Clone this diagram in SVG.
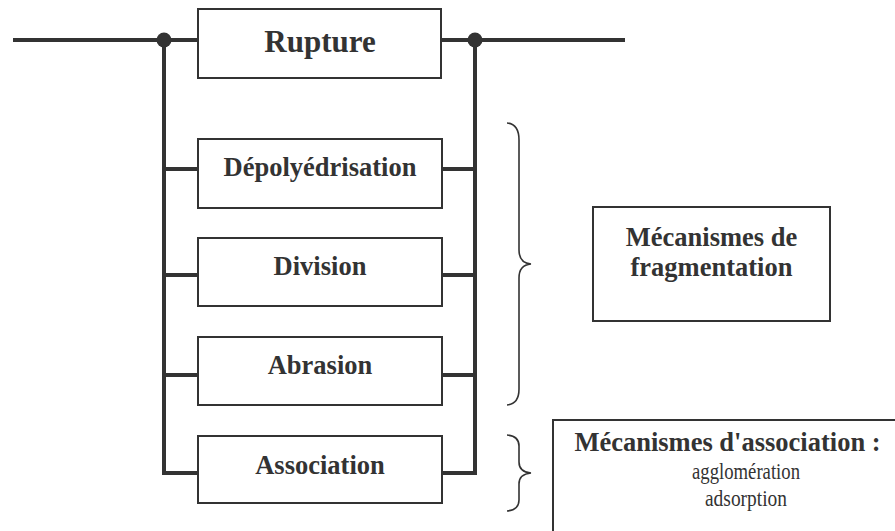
<svg xmlns="http://www.w3.org/2000/svg" width="895" height="531" viewBox="0 0 895 531">
<style>
.box{fill:#fff;stroke:#333;stroke-width:2}
.wire{fill:none;stroke:#333;stroke-width:4}
.brace{fill:none;stroke:#333;stroke-width:1.6}
.t{font-family:"Liberation Serif","Times New Roman",serif;font-weight:bold;font-size:26.5px;fill:#333;text-anchor:middle}
.r{font-family:"Liberation Serif","Times New Roman",serif;font-size:24px;fill:#333;text-anchor:middle}
</style>
<rect width="895" height="531" fill="#fff"/>
<g id="connectors">
<path class="wire" d="M13 40H198M441 40H625"/>
<path class="wire" d="M164 40V473H198M475 40V473H442"/>
<path class="wire" d="M164 169H198M442 169H475M164 275H198M442 275H475M164 375H198M442 375H475"/>
<circle cx="164" cy="40" r="7.5" fill="#333"/>
<circle cx="475" cy="40" r="7.5" fill="#333"/>
</g>
<g id="rupture"><rect class="box" x="198" y="9" width="243" height="69"/><text class="t" x="320" y="52" style="font-size:31px">Rupture</text></g>
<g id="depolyedrisation"><rect class="box" x="198" y="139" width="244" height="69"/><text class="t" x="320" y="176">Dépolyédrisation</text></g>
<g id="division"><rect class="box" x="198" y="238" width="244" height="68"/><text class="t" x="320" y="275">Division</text></g>
<g id="abrasion"><rect class="box" x="198" y="337" width="244" height="68"/><text class="t" x="320" y="374">Abrasion</text></g>
<g id="association"><rect class="box" x="198" y="436" width="244" height="67"/><text class="t" x="320" y="474">Association</text></g>
<g id="braces">
<path class="brace" d="M507 123Q519 124 519 140V250Q519 263 531 264Q519 265 519 278V389Q519 404 507 405"/>
<path class="brace" d="M507 435Q519 436 519 446V462Q519 472 531 473Q519 474 519 484V500Q519 510 507 511"/>
</g>
<g id="fragmentation"><rect class="box" x="593" y="207" width="237" height="114"/><text class="t" x="711.5" y="246">Mécanismes de</text><text class="t" x="711.5" y="276">fragmentation</text></g>
<g id="mecanismes-association"><path class="box" d="M553 532V420H897"/><text class="t" x="727.5" y="451">Mécanismes d'association :</text><text class="r" x="746" y="479" textLength="108" lengthAdjust="spacingAndGlyphs">agglomération</text><text class="r" x="746" y="506" textLength="82" lengthAdjust="spacingAndGlyphs">adsorption</text></g>
</svg>
